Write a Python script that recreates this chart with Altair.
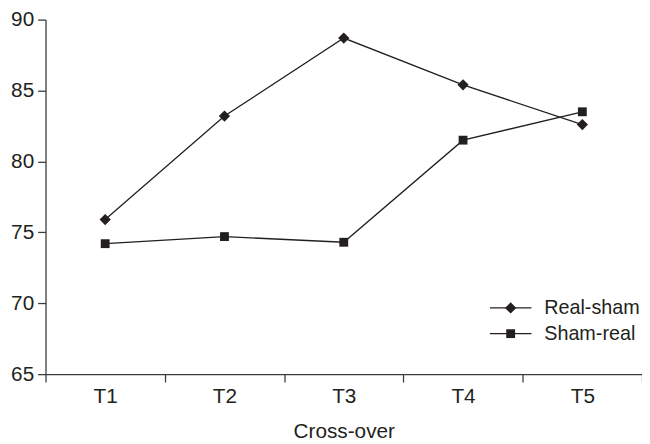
import altair as alt
import pandas as pd

# ---- data ----
periods = ["T1", "T2", "T3", "T4", "T5"]
real_sham = [75.9, 83.2, 88.7, 85.4, 82.6]
sham_real = [74.2, 74.7, 74.3, 81.5, 83.5]
series_names = ["Real-sham", "Sham-real"]
series_shapes = ["diamond", "square"]
series_sizes = [130, 80]
y_ticks = [65, 70, 75, 80, 85, 90]

df = pd.DataFrame({
    "period": periods * 2,
    "value": real_sham + sham_real,
    "series": [series_names[0]] * len(periods) + [series_names[1]] * len(periods),
})

INK = "#231f20"
AXIS = "#3c3c3c"
FONT = "Liberation Sans"
FS = 21

x_enc = alt.X(
    "period:N",
    sort=periods,
    bandPosition=0.5,
    scale=alt.Scale(type="band", paddingInner=0, paddingOuter=0),
    axis=alt.Axis(
        title="Cross-over",
        tickBand="extent",
        labelAngle=0,
        tickSize=8,
        labelPadding=4,
        titlePadding=14,
    ),
)
y_enc = alt.Y(
    "value:Q",
    scale=alt.Scale(domain=[65, 90], nice=False, zero=False),
    axis=alt.Axis(values=y_ticks, title=None, tickSize=8, labelPadding=4, grid=False),
)

base = alt.Chart(df)

lines = base.mark_line(color=INK, strokeWidth=1.3).encode(
    x=x_enc, y=y_enc, detail="series:N"
)
points = base.mark_point(filled=True, color=INK, opacity=1).encode(
    x=x_enc,
    y=y_enc,
    shape=alt.Shape("series:N", scale=alt.Scale(domain=series_names, range=series_shapes), legend=None),
    size=alt.Size("series:N", scale=alt.Scale(domain=series_names, range=series_sizes), legend=None),
)

layers = [lines, points]

# manual legend (line with marker, then label)
legend_y = [292, 318]
for name, shp, sz, ly in zip(series_names, series_shapes, series_sizes, legend_y):
    ldf = pd.DataFrame({"series": [name]})
    lc = alt.Chart(ldf)
    layers.append(
        lc.mark_rule(color=INK, strokeWidth=1.3).encode(
            x=alt.value(450), x2=alt.value(492), y=alt.value(ly)
        )
    )
    layers.append(
        lc.mark_point(shape=shp, size=sz, filled=True, color=INK, opacity=1).encode(
            x=alt.value(471), y=alt.value(ly)
        )
    )
    layers.append(
        lc.mark_text(align="left", baseline="middle", font=FONT, fontSize=20, color=INK).encode(
            x=alt.value(505), y=alt.value(ly), text="series:N"
        )
    )

chart = (
    alt.layer(*layers)
    .properties(
        width=604,
        height=359,
        autosize=alt.AutoSizeParams(type="none"),
        padding={"left": 38, "top": 9, "right": 0, "bottom": 70},
        background="white",
    )
    .configure_view(stroke=None)
    .configure_axis(
        labelFont=FONT,
        labelFontSize=FS,
        labelColor=INK,
        titleFont=FONT,
        titleFontSize=FS,
        titleFontWeight="normal",
        titleColor=INK,
        domainColor=AXIS,
        domainWidth=1.3,
        tickColor=AXIS,
        tickWidth=1.3,
    )
)

chart.save("out.html", embed_options={"renderer": "svg", "actions": False})
